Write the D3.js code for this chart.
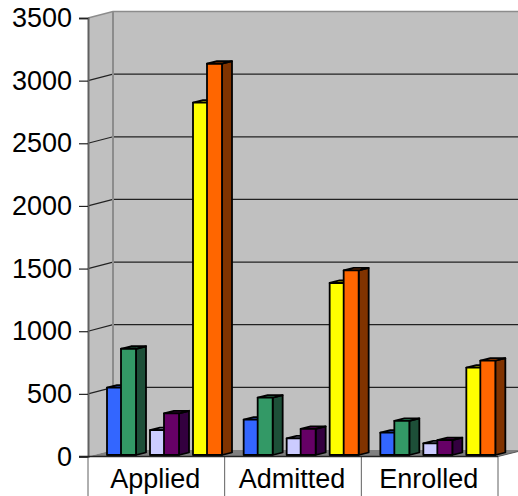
<!DOCTYPE html>
<meta charset="utf-8">
<script src="https://d3js.org/d3.v7.min.js"></script>
<style>
  html, body { margin: 0; padding: 0; background: #fff; overflow: hidden; }
  text { font-family: "Liberation Sans", Arial, sans-serif; fill: #000; }
</style>
<div id="chart"></div>
<script>

// values
var categories = ["Applied", "Admitted", "Enrolled"];
var seriesNames = ["s1", "s2", "s3", "s4", "s5", "s6"];
var s1 = [550, 295, 190];
var s2 = [860, 470, 285];
var s3 = [210, 145, 105];
var s4 = [345, 220, 130];
var s5 = [2825, 1385, 710];
var s6 = [3135, 1485, 765];
var allSeries = [s1, s2, s3, s4, s5, s6];
var yTicks = [0, 500, 1000, 1500, 2000, 2500, 3000, 3500];

var fronts = ["#3366ff", "#339966", "#ccccff", "#660066", "#ffff00", "#ff6600"];
var tops   = ["#2850cc", "#297a52", "#a3a3cc", "#520052", "#cccc00", "#cc5200"];
var sides  = ["#1f4c5f", "#1d4f38", "#7a7a99", "#33003f", "#999900", "#803300"];

var W = 518, H = 496;
var plotL = 88, plotR = 498, plotT = 18, plotB = 456.5;
var depthX = 25, depthY = 6.5;      // wall depth
var barDX = 10, barDY = 2.5;        // bar depth
var barW = 15;

var svg = d3.select("#chart").append("svg")
    .attr("width", W)
    .attr("height", H)
    .style("display", "block");

var x = d3.scaleBand().domain(categories).range([plotL, plotR]);
var y = d3.scaleLinear().domain([0, 3500]).range([plotB, plotT]);

// offset of a bar inside its category: three pairs of two
var pairX = d3.scaleLinear().domain([0, 2]).range([19, 105]);
var memberX = d3.scaleLinear().domain([0, 1]).range([0, 14]);
function barX(cat, i) {
  return x(cat) + pairX(Math.floor(i / 2)) + memberX(i % 2);
}

function pts(a) {
  return a.map(function(p) { return p.join(","); }).join(" ");
}

// walls
svg.append("polygon")
  .attr("points", pts([[plotL, plotT], [plotL + depthX, plotT - depthY], [W, plotT - depthY],
                       [W, plotB - depthY], [plotL + depthX, plotB - depthY], [plotL, plotB]]))
  .attr("fill", "#c0c0c0");

// floor
svg.append("polygon")
  .attr("points", pts([[plotL, plotB], [plotL + depthX, plotB - depthY], [W, plotB - depthY],
                       [W, plotB - 5], [plotR, plotB]]))
  .attr("fill", "#808080");

// grid lines on the back and side wall
svg.selectAll(".grid").data(yTicks.slice(1, -1)).enter().append("polyline")
    .attr("class", "grid")
    .attr("points", function(d) {
      return pts([[plotL, y(d)], [plotL + depthX, y(d) - depthY], [W, y(d) - depthY]]);
    })
    .attr("fill", "none")
    .attr("stroke", "#222")
    .attr("stroke-width", 1.2);

// top edge and back corner
svg.append("polyline")
  .attr("points", pts([[plotL, plotT], [plotL + depthX, plotT - depthY], [W, plotT - depthY]]))
  .attr("fill", "none")
  .attr("stroke", "#8c8c8c")
  .attr("stroke-width", 1.5);
svg.append("line")
  .attr("x1", plotL + depthX).attr("x2", plotL + depthX)
  .attr("y1", plotT - depthY).attr("y2", plotB - depthY)
  .attr("stroke", "#8c8c8c")
  .attr("stroke-width", 2);

// category band below the floor
svg.append("rect")
  .attr("x", plotL).attr("y", plotB)
  .attr("width", plotR - plotL).attr("height", H - plotB)
  .attr("fill", "#fff");

svg.append("line")
  .attr("x1", plotR).attr("x2", W)
  .attr("y1", plotB).attr("y2", plotB - 5)
  .attr("stroke", "#555")
  .attr("stroke-width", 1);

svg.selectAll(".sep").data(categories.concat([null])).enter().append("line")
    .attr("class", "sep")
    .attr("x1", function(d) { return d ? x(d) : plotR; })
    .attr("x2", function(d) { return d ? x(d) : plotR; })
    .attr("y1", plotB)
    .attr("y2", H)
    .attr("stroke", "#606060")
    .attr("stroke-width", 1);

svg.selectAll(".cat").data(categories).enter().append("text")
    .attr("class", "cat")
    .attr("x", function(d) { return x(d) + x.bandwidth() / 2 - 1; })
    .attr("y", 488)
    .attr("text-anchor", "middle")
    .style("font-size", "27px")
    .text(function(d) { return d; });

// bars, left to right so each one covers the side of the one before
categories.forEach(function(cat, c) {
  allSeries.forEach(function(values, i) {
    var x0 = barX(cat, i), x1 = x0 + barW;
    var yT = y(values[c]), yB = plotB - 1.5;
    var g = svg.append("g").attr("class", "bar " + seriesNames[i])
      .attr("stroke", "#000")
      .attr("stroke-width", 1.8)
      .attr("stroke-linejoin", "round");
    g.append("polygon")
      .attr("points", pts([[x1, yT], [x1 + barDX, yT - barDY], [x1 + barDX, yB - barDY], [x1, yB]]))
      .attr("fill", sides[i]);
    g.append("polygon")
      .attr("points", pts([[x0, yT], [x0 + barDX, yT - barDY], [x1 + barDX, yT - barDY], [x1, yT]]))
      .attr("fill", tops[i]);
    g.append("rect")
      .attr("x", x0).attr("y", yT)
      .attr("width", barW).attr("height", yB - yT)
      .attr("fill", fronts[i]);
  });
});

// y axis
var yAxis = d3.axisLeft(y).tickValues(yTicks).tickFormat(d3.format("d"))
    .tickSize(9).tickPadding(7);
var ag = svg.append("g")
    .attr("transform", "translate(" + plotL + ",0)")
    .call(yAxis);
ag.select(".domain").attr("stroke", "#606060").attr("stroke-width", 2);
ag.selectAll(".tick line").attr("stroke", "#222").attr("stroke-width", 1.2);
ag.selectAll(".tick text")
  .style("font-size", "27px")
  .style("font-family", '"Liberation Sans", Arial, sans-serif')
  .attr("fill", "#000");

// floor line at the front
svg.append("line")
  .attr("x1", plotL - 9).attr("x2", plotR)
  .attr("y1", plotB).attr("y2", plotB)
  .attr("stroke", "#222")
  .attr("stroke-width", 1.5);

</script>
